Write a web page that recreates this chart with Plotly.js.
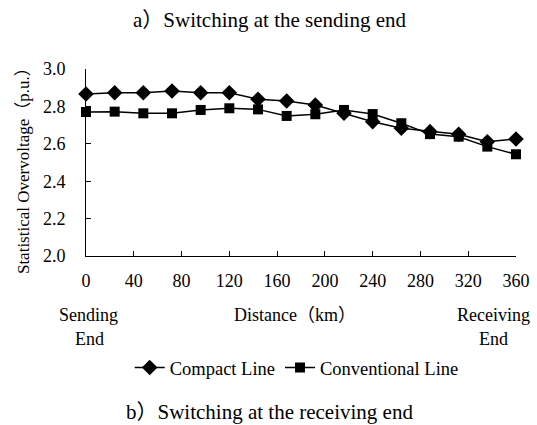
<!DOCTYPE html>
<html>
<head>
<meta charset="utf-8">
<script src="https://cdn.plot.ly/plotly-3.0.1.min.js"></script>
<style>html,body{margin:0;padding:0;background:#fff;}#chart{width:537px;height:425px;}</style>
</head>
<body>
<div id="chart"></div>
<script>
const distance = [0, 24, 48, 72, 96, 120, 144, 168, 192, 216, 240, 264, 288, 312, 336, 360];
const compactLine = [2.866, 2.873, 2.873, 2.882, 2.873, 2.873, 2.838, 2.829, 2.807, 2.763, 2.718, 2.683, 2.665, 2.651, 2.611, 2.626];
const conventionalLine = [2.770, 2.772, 2.763, 2.763, 2.781, 2.790, 2.784, 2.749, 2.758, 2.781, 2.759, 2.710, 2.652, 2.638, 2.585, 2.544];
const xTicks = [0, 40, 80, 120, 160, 200, 240, 280, 320, 360];
const yTicks = [2.0, 2.2, 2.4, 2.6, 2.8, 3.0];

const FONT = "Liberation Serif, Times New Roman, Noto Sans CJK SC, serif";

const traces = [
  {x: distance, y: compactLine, name: 'Compact Line', type: 'scatter', mode: 'lines+markers',
   line: {color: '#000', width: 1.5}, marker: {symbol: 'diamond', size: 12, color: '#000'}, cliponaxis: false},
  {x: distance, y: conventionalLine, name: 'Conventional Line', type: 'scatter', mode: 'lines+markers',
   line: {color: '#000', width: 1.5}, marker: {symbol: 'square', size: 10, color: '#000'}, cliponaxis: false}
];

function ann(text, x, y, size, extra) {
  return Object.assign({text: text, xref: 'paper', yref: 'paper', x: x, y: y,
    xanchor: 'center', yanchor: 'middle', showarrow: false, font: {size: size}}, extra || {});
}

const layout = {
  width: 537, height: 425,
  margin: {l: 86, r: 21, t: 69, b: 169},
  paper_bgcolor: '#fff', plot_bgcolor: '#fff',
  font: {family: FONT, size: 18, color: '#000'},
  showlegend: true,
  legend: {orientation: 'h', x: 0.49, y: -0.599, xanchor: 'center', yanchor: 'middle',
           font: {family: FONT, size: 18.5, color: '#000'}, itemwidth: 30, tracegroupgap: 0},
  xaxis: {range: [0, 360], tickvals: xTicks, ticktext: xTicks.map(String),
          showgrid: false, zeroline: false, showline: true, linecolor: '#000', linewidth: 1,
          ticks: 'inside', ticklen: 5, tickcolor: '#000', ticklabelstandoff: 8,
          tickfont: {family: FONT, size: 18}},
  yaxis: {range: [2.0, 3.0], tickvals: yTicks, ticktext: yTicks.map(v => v.toFixed(1)),
          showgrid: false, zeroline: false, showline: true, linecolor: '#000', linewidth: 1,
          ticks: 'inside', ticklen: 5, tickcolor: '#000', ticklabelstandoff: 16,
          tickfont: {family: FONT, size: 18}},
  annotations: [
    ann('a）Switching at the sending end', 0.426, 1.262, 21),
    ann('b）Switching at the receiving end', 0.426, -0.834, 21),
    ann('Sending', 0.005, -0.316, 18),
    ann('End', 0.007, -0.444, 18),
    ann('Distance（km）', 0.486, -0.316, 18),
    ann('Receiving', 0.948, -0.316, 18),
    ann('End', 0.948, -0.444, 18),
    ann('Statistical Overvoltage（p.u.）', -0.144, 0.476, 17, {textangle: -90})
  ]
};

Plotly.newPlot('chart', traces, layout, {displayModeBar: false, staticPlot: true});
</script>
</body>
</html>
